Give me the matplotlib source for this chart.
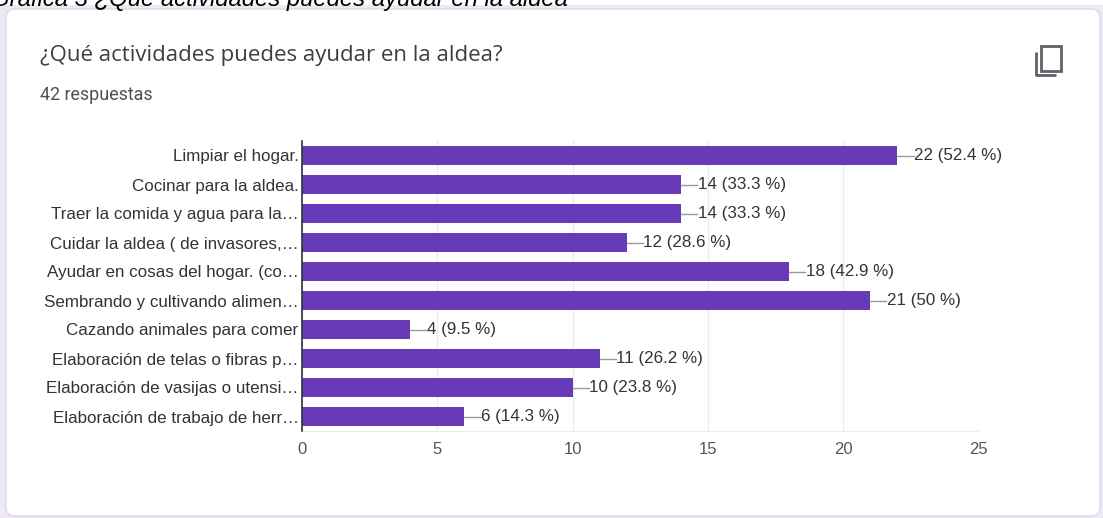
import matplotlib
matplotlib.use('Agg')
import matplotlib.pyplot as plt
from matplotlib.patches import FancyBboxPatch, Rectangle

W, H = 1103, 518

labels = ['Limpiar el hogar.', 'Cocinar para la aldea.', 'Traer la comida y agua para la…',
          'Cuidar la aldea ( de invasores,…', 'Ayudar en cosas del hogar. (co…',
          'Sembrando y cultivando alimen…', 'Cazando animales para comer',
          'Elaboración de telas o fibras p…', 'Elaboración de vasijas o utensi…',
          'Elaboración de trabajo de herr…']
counts = [22, 14, 14, 12, 18, 21, 4, 11, 10, 6]
percents = ['52.4', '33.3', '33.3', '28.6', '42.9', '50', '9.5', '26.2', '23.8', '14.3']
xticks = [0, 5, 10, 15, 20, 25]

plt.rcParams['font.family'] = ['Liberation Sans', 'DejaVu Sans']

fig = plt.figure(figsize=(W / 100, H / 100), dpi=100, facecolor='#ede7f6')

# background layer in pixel coordinates
bg = fig.add_axes([0, 0, 1, 1])
bg.set_xlim(0, W)
bg.set_ylim(H, 0)
bg.axis('off')
bg.add_patch(Rectangle((0, 0), W, 5, color='white', lw=0))
bg.add_patch(FancyBboxPatch((14, 17), 1078, 491, boxstyle='round,pad=8,rounding_size=9',
                            fc='white', ec='#dadce0', lw=1))
bg.text(-9, 6, 'Gráfica 3 ¿Qué actividades puedes ayudar en la aldea', fontsize=17.2,
        style='italic', color='black', va='baseline', ha='left', clip_on=True)
bg.text(40, 55, '¿Qué actividades puedes ayudar en la aldea?', fontsize=16,
        family=['Open Sans', 'DejaVu Sans'], color='#3c4043', va='center')
bg.text(40, 95, '42 respuestas', fontsize=12.9, family=['Roboto', 'DejaVu Sans'],
        color='#4d5156', va='center')

# copy icon
bg.add_patch(Rectangle((1041, 45.5), 20, 25, fc='none', ec='#5f6368', lw=2))
bg.plot([1036, 1036, 1056], [52, 75, 75], color='#5f6368', lw=2, solid_capstyle='butt')

# chart
left, right, top, bottom = 302, 978.5, 141, 431
ax = fig.add_axes([left / W, 1 - bottom / H, (right - left) / W, (bottom - top) / H])
ax.patch.set_alpha(0)
pos = list(range(len(labels)))
ax.barh(pos, counts, height=0.655, color='#673ab7', zorder=3)
ax.set_xlim(0, 25)
ax.set_ylim(len(labels) - 0.5, -0.5)
ax.set_yticks(pos)
ax.set_yticklabels(labels, fontsize=12.25, color='#333333')
ax.set_xticks(xticks)
ax.tick_params(axis='y', length=0, pad=2.5)
ax.tick_params(axis='x', length=0, pad=8, labelsize=12, labelcolor='#555555')
ax.grid(axis='x', color='#ececec', lw=1, zorder=0)
for s in ['top', 'right']:
    ax.spines[s].set_visible(False)
ax.spines['bottom'].set_color('#ececec')
ax.spines['left'].set_color('#333333')
ax.spines['left'].set_linewidth(1.2)
ax.spines['left'].set_zorder(5)

for y, c, p in zip(pos, counts, percents):
    ax.plot([c, c + 0.6], [y, y], color='#999999', lw=1, zorder=4, clip_on=False)
    ax.text(c + 0.62, y, f'{c} ({p} %)', fontsize=12.25, color='#333333', va='center',
            ha='left', zorder=6)

fig.savefig('out.png', dpi=100, facecolor=fig.get_facecolor())
